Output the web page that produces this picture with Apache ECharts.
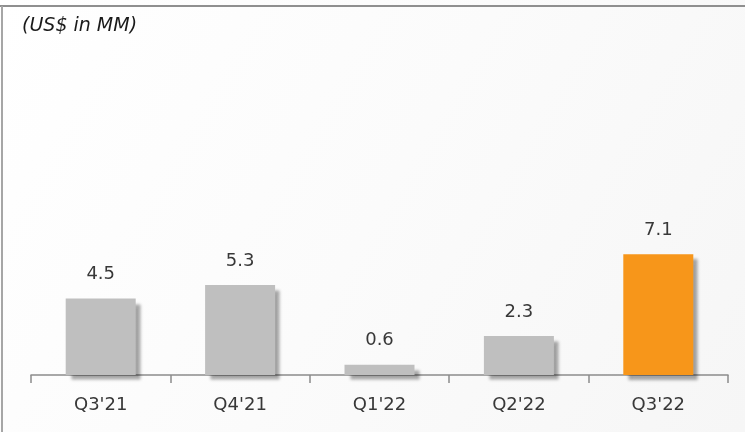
<!DOCTYPE html>
<html>
<head>
<meta charset="utf-8">
<script src="https://cdn.jsdelivr.net/npm/echarts@6/dist/echarts.min.js"></script>
<style>
  html, body { margin: 0; padding: 0; background: #fff; }
  #chart { width: 745px; height: 432px; }
</style>
</head>
<body>
<div id="chart"></div>
<script>
// Quarterly values, US$ millions
const quarters = ["Q3'21", "Q4'21", "Q1'22", "Q2'22", "Q3'22"];
const values = [4.5, 5.3, 0.6, 2.3, 7.1];
const highlightIndex = 4;

const GREY = '#bfbfbf';
const ORANGE = '#f7961a';
const FONT = '"DejaVu Sans", "Open Sans", sans-serif';

const chart = echarts.init(document.getElementById('chart'), null, { renderer: 'canvas' });

chart.setOption({
  animation: false,
  backgroundColor: {
    type: 'linear', x: 0, y: 0, x2: 1, y2: 1,
    colorStops: [
      { offset: 0, color: '#ffffff' },
      { offset: 0.5, color: '#fbfbfb' },
      { offset: 1, color: '#f6f6f6' }
    ]
  },
  title: {
    text: '(US$ in MM)',
    left: 17,
    top: 12,
    textStyle: { fontFamily: FONT, fontStyle: 'italic', fontWeight: 'normal', fontSize: 19, color: '#1a1a1a' }
  },
  grid: { left: 31, right: 17, top: 35, bottom: 57 },
  xAxis: {
    type: 'category',
    data: quarters,
    axisLine: { lineStyle: { color: '#8c8c8c', width: 1.5 } },
    axisTick: { show: true, alignWithLabel: false, length: 8, lineStyle: { color: '#8c8c8c', width: 1.5 } },
    axisLabel: { fontFamily: FONT, fontSize: 18, color: '#383838', margin: 21 }
  },
  yAxis: {
    type: 'value',
    min: 0,
    max: 20,
    show: false,
    splitLine: { show: false }
  },
  graphic: [
    { type: 'line', shape: { x1: 0, y1: 6, x2: 745, y2: 6 }, style: { stroke: '#8f8f8f', lineWidth: 2 }, z: 100 },
    { type: 'line', shape: { x1: 2, y1: 6, x2: 2, y2: 432 }, style: { stroke: '#a6a6a6', lineWidth: 2 }, z: 100 }
  ],
  series: [{
    type: 'bar',
    barWidth: 70,
    data: values.map((v, i) => ({
      value: v,
      itemStyle: { color: i === highlightIndex ? ORANGE : GREY }
    })),
    itemStyle: {
      shadowColor: 'rgba(0,0,0,0.35)',
      shadowOffsetX: 5,
      shadowOffsetY: 5,
      shadowBlur: 3
    },
    label: {
      show: true,
      position: 'top',
      distance: 15,
      fontFamily: FONT,
      fontSize: 18,
      color: '#383838',
      formatter: p => p.value.toFixed(1)
    }
  }]
});
</script>
</body>
</html>
